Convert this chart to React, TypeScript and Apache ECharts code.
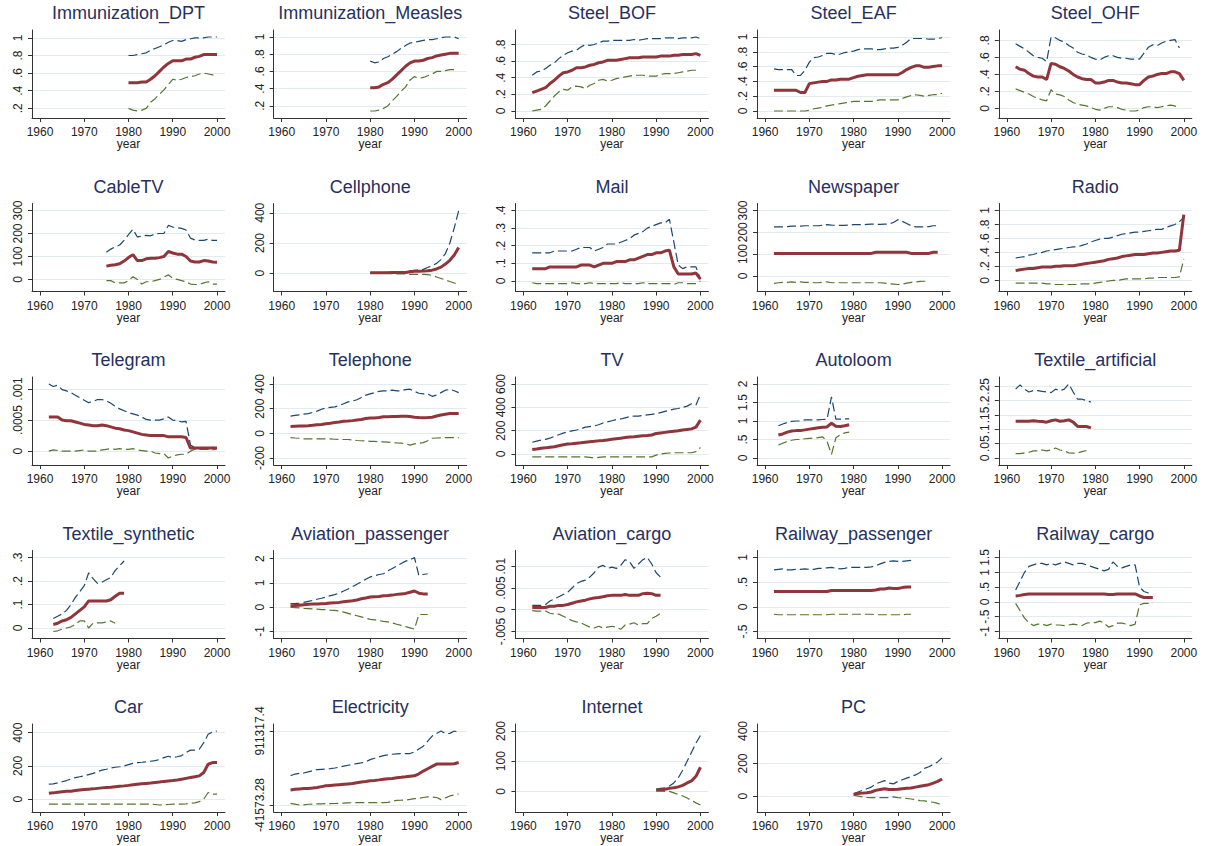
import React, { useEffect, useRef } from "react";
import * as echarts from "echarts";

// ---------- DATA ----------
const xTicks = [1960, 1970, 1980, 1990, 2000];

// 1 Immunization_DPT (1980-)
const dptStart = 1980;
const dptMean = [0.49, 0.49, 0.49, 0.5, 0.5, 0.53, 0.57, 0.62, 0.67, 0.71, 0.74, 0.74, 0.74, 0.76, 0.76, 0.78, 0.79, 0.81, 0.81, 0.81, 0.81];
const dptUpper = [0.8, 0.8, 0.81, 0.82, 0.83, 0.86, 0.88, 0.9, 0.92, 0.95, 0.97, 0.97, 0.96, 0.98, 0.99, 1.0, 1.0, 1.0, 1.01, 1.01, 1.01];
const dptLower = [0.2, 0.18, 0.17, 0.18, 0.2, 0.27, 0.31, 0.36, 0.41, 0.47, 0.53, 0.52, 0.53, 0.55, 0.56, 0.57, 0.59, 0.6, 0.59, 0.58, 0.58];
const dptTicks = [0.2, 0.4, 0.6, 0.8, 1];

// 2 Immunization_Measles (1980-)
const measStart = 1980;
const measMean = [0.41, 0.41, 0.42, 0.45, 0.47, 0.51, 0.56, 0.61, 0.66, 0.7, 0.72, 0.72, 0.73, 0.75, 0.76, 0.78, 0.79, 0.8, 0.81, 0.81, 0.81];
const measUpper = [0.72, 0.7, 0.71, 0.75, 0.77, 0.8, 0.83, 0.87, 0.9, 0.93, 0.94, 0.95, 0.96, 0.97, 0.97, 0.98, 0.99, 1.0, 1.0, 1.0, 0.98];
const measLower = [0.14, 0.14, 0.15, 0.17, 0.2, 0.26, 0.31, 0.37, 0.42, 0.5, 0.54, 0.52, 0.53, 0.55, 0.57, 0.6, 0.6, 0.61, 0.62, 0.62];
const measTicks = [0.2, 0.4, 0.6, 0.8, 1];

// 3 Steel_BOF (1962-)
const bofStart = 1962;
const bofMean = [
  0.22, 0.24, 0.26, 0.28, 0.33, 0.37, 0.42, 0.46, 0.47, 0.49,
  0.52, 0.52, 0.53, 0.55, 0.56, 0.58, 0.59, 0.61, 0.61, 0.61,
  0.62, 0.63, 0.64, 0.64, 0.64, 0.65, 0.65, 0.65, 0.65, 0.66,
  0.66, 0.66, 0.67, 0.67, 0.68, 0.68, 0.68, 0.69, 0.67];
const bofUpper = [
  0.43, 0.47, 0.48, 0.51, 0.55, 0.58, 0.63, 0.67, 0.7, 0.72,
  0.73, 0.77, 0.8, 0.79, 0.8, 0.82, 0.84, 0.84, 0.85, 0.85,
  0.85, 0.85, 0.85, 0.86, 0.85, 0.86, 0.87, 0.87, 0.87, 0.87,
  0.88, 0.88, 0.88, 0.87, 0.88, 0.88, 0.88, 0.89, 0.87];
const bofLower = [
  0, 0.01, 0.02, 0.06, 0.12, 0.18, 0.23, 0.26, 0.25, 0.29,
  0.3, 0.29, 0.27, 0.31, 0.33, 0.37, 0.38, 0.36, 0.37, 0.39,
  0.4, 0.41, 0.42, 0.43, 0.43, 0.43, 0.42, 0.42, 0.42, 0.44,
  0.45, 0.45, 0.45, 0.46, 0.47, 0.48, 0.49, 0.49];
const bofTicks = [0, 0.2, 0.4, 0.6, 0.8];

// 4 Steel_EAF (1962-)
const eafStart = 1962;
const eafMean = [
  0.28, 0.28, 0.28, 0.28, 0.28, 0.28, 0.25, 0.25, 0.37, 0.38,
  0.39, 0.4, 0.4, 0.42, 0.42, 0.43, 0.43, 0.43, 0.45, 0.47,
  0.48, 0.49, 0.49, 0.49, 0.49, 0.49, 0.49, 0.49, 0.49, 0.52,
  0.56, 0.59, 0.61, 0.61, 0.59, 0.59, 0.6, 0.61, 0.61];
const eafUpper = [
  0.57, 0.56, 0.56, 0.56, 0.56, 0.48, 0.48, 0.55, 0.66, 0.72,
  0.73, 0.75, 0.78, 0.78, 0.76, 0.77, 0.79, 0.8, 0.81, 0.83,
  0.84, 0.84, 0.84, 0.83, 0.83, 0.84, 0.85, 0.85, 0.86, 0.89,
  0.93, 0.98, 0.98, 0.98, 0.98, 0.97, 0.97, 0.98, 0.99];
const eafLower = [
  0, 0, 0, 0, 0, 0, 0, 0, 0.01, 0.03,
  0.04, 0.05, 0.07, 0.08, 0.09, 0.1, 0.11, 0.12, 0.13, 0.13,
  0.13, 0.13, 0.13, 0.14, 0.15, 0.15, 0.15, 0.15, 0.15, 0.17,
  0.19, 0.21, 0.22, 0.21, 0.2, 0.21, 0.22, 0.22, 0.24];
const eafTicks = [0, 0.2, 0.4, 0.6, 0.8, 1];

// 5 Steel_OHF (1962-)
const ohfStart = 1962;
const ohfMean = [
  0.49, 0.46, 0.45, 0.41, 0.38, 0.37, 0.37, 0.34, 0.53, 0.52,
  0.49, 0.47, 0.44, 0.4, 0.37, 0.35, 0.34, 0.34, 0.3, 0.3,
  0.31, 0.33, 0.33, 0.31, 0.3, 0.3, 0.29, 0.28, 0.28, 0.33,
  0.37, 0.38, 0.4, 0.41, 0.41, 0.43, 0.43, 0.41, 0.33];
const ohfUpper = [
  0.76, 0.73, 0.7, 0.66, 0.62, 0.6, 0.59, 0.55, 0.84, 0.83,
  0.8, 0.78, 0.74, 0.71, 0.66, 0.64, 0.63, 0.6, 0.58, 0.57,
  0.6, 0.62, 0.62, 0.6, 0.59, 0.59, 0.58, 0.58, 0.58, 0.65,
  0.72, 0.75, 0.74, 0.77, 0.79, 0.8, 0.81, 0.71];
const ohfLower = [
  0.23, 0.21, 0.19, 0.17, 0.14, 0.12, 0.1, 0.09, 0.22, 0.17,
  0.16, 0.14, 0.1, 0.07, 0.05, 0.04, 0.03, 0.01, -0.01, -0.02,
  0, 0.02, 0.02, 0.01, -0.01, -0.02, -0.03, -0.03, -0.02, 0.01,
  0.02, 0.02, 0.01, 0.02, 0.03, 0.04, 0.03, 0];
const ohfTicks = [0, 0.2, 0.4, 0.6, 0.8];

// 6 CableTV (1975-)
const cableStart = 1975;
const cableMean = [58, 62, 64, 68, 80, 95, 108, 82, 82, 90, 92, 92, 95, 100, 122, 115, 110, 110, 100, 80, 76, 76, 82, 80, 76, 75];
const cableUpper = [118, 132, 142, 150, 170, 195, 218, 185, 188, 192, 190, 198, 200, 200, 235, 228, 225, 222, 215, 180, 172, 170, 170, 175, 170, 170];
const cableLower = [-5, -5, -15, -15, -15, -5, 12, 0, -20, -10, -10, -5, 0, 10, 20, 5, 0, -5, -10, -20, -22, -22, -15, -10, -20, -20];
const cableTicks = [0, 100, 200, 300];

// 7 Cellphone (1980-)
const cellStart = 1980;
const cellMean = [2, 2, 3, 3, 3, 4, 4, 5, 5, 10, 12, 13, 14, 16, 20, 28, 40, 60, 85, 120, 170];
const cellUpper = [3, 3, 4, 4, 5, 6, 7, 8, 8, 15, 18, 20, 25, 38, 50, 65, 90, 130, 200, 300, 415];
const cellLower = [0, 0, 0, -1, -2, -3, -4, -5, -5, -8, -8, -8, -8, -10, -15, -25, -35, -45, -55, -65, -75];
const cellTicks = [0, 200, 400];

// 8 Mail (1962-)
const mailStart = 1962;
const mailMean = [
  0.07, 0.07, 0.07, 0.07, 0.08, 0.08, 0.08, 0.08, 0.08, 0.08,
  0.08, 0.09, 0.09, 0.09, 0.08, 0.09, 0.1, 0.1, 0.1, 0.11,
  0.11, 0.11, 0.12, 0.12, 0.13, 0.14, 0.15, 0.15, 0.16, 0.16,
  0.17, 0.175, 0.08, 0.04, 0.04, 0.04, 0.04, 0.045, 0.01];
const mailUpper = [
  0.16, 0.16, 0.16, 0.16, 0.16, 0.17, 0.17, 0.17, 0.17, 0.17,
  0.18, 0.19, 0.19, 0.19, 0.17, 0.18, 0.19, 0.21, 0.21, 0.21,
  0.22, 0.23, 0.24, 0.26, 0.27, 0.28, 0.3, 0.31, 0.32, 0.33,
  0.33, 0.35, 0.22, 0.09, 0.07, 0.08, 0.08, 0.08, 0.01];
const mailLower = [
  -0.01, -0.015, -0.015, -0.015, -0.015, -0.015, -0.015, -0.015, -0.015, -0.01,
  -0.015, -0.015, -0.015, -0.01, -0.015, -0.015, -0.015, -0.015, -0.015, -0.015,
  -0.01, -0.015, -0.015, -0.015, -0.015, -0.01, -0.015, -0.015, -0.015, -0.015,
  -0.015, -0.015, -0.02, -0.01, -0.01, -0.015, -0.015, -0.015, 0];
const mailTicks = [0, 0.1, 0.2, 0.3, 0.4];

// 9 Newspaper (1962-)
const newsStart = 1962;
const newsMean = [
  103, 103, 103, 103, 103, 103, 103, 103, 103, 103,
  103, 103, 103, 103, 103, 103, 103, 103, 103, 103,
  103, 103, 103, 108, 108, 108, 108, 108, 108, 108,
  108, 103, 103, 103, 103, 103, 108, 108];
const newsUpper = [
  225, 225, 225, 226, 228, 228, 228, 230, 230, 230,
  230, 232, 235, 233, 232, 232, 232, 233, 235, 235,
  235, 236, 237, 237, 236, 237, 238, 245, 258, 250,
  240, 230, 225, 225, 225, 226, 230, 230];
const newsLower = [
  -35, -32, -30, -30, -28, -30, -28, -30, -30, -32,
  -32, -30, -28, -32, -32, -32, -32, -32, -32, -32,
  -32, -32, -32, -32, -32, -34, -36, -38, -40, -38,
  -34, -30, -28, -26, -25, -25];
const newsTicks = [0, 100, 200, 300];

// 10 Radio (1962-)
const radioStart = 1962;
const radioMean = [
  0.14, 0.15, 0.16, 0.17, 0.17, 0.18, 0.19, 0.19, 0.19, 0.2,
  0.2, 0.21, 0.21, 0.21, 0.22, 0.23, 0.24, 0.25, 0.26, 0.27,
  0.28, 0.3, 0.31, 0.32, 0.34, 0.35, 0.36, 0.37, 0.37, 0.37,
  0.38, 0.39, 0.39, 0.4, 0.41, 0.42, 0.42, 0.43, 0.94];
const radioUpper = [
  0.32, 0.33, 0.34, 0.36, 0.37, 0.39, 0.4, 0.42, 0.43, 0.44,
  0.45, 0.46, 0.47, 0.48, 0.48, 0.5, 0.52, 0.55, 0.57, 0.59,
  0.6, 0.6, 0.62, 0.64, 0.66, 0.67, 0.68, 0.69, 0.69, 0.7,
  0.71, 0.72, 0.73, 0.73, 0.76, 0.78, 0.8, 0.84, 0.9];
const radioLower = [
  -0.04, -0.04, -0.04, -0.04, -0.04, -0.04, -0.04, -0.05, -0.05, -0.06,
  -0.06, -0.06, -0.06, -0.06, -0.06, -0.05, -0.05, -0.05, -0.04, -0.03,
  -0.02, -0.01, 0, 0, 0.01, 0.02, 0.02, 0.02, 0.02, 0.02,
  0.03, 0.03, 0.04, 0.04, 0.04, 0.04, 0.04, 0.05, 0.3];
const radioTicks = [0, 0.2, 0.4, 0.6, 0.8, 1];

// 11 Telegram (1962-)
const tgStart = 1962;
const tgMean = [
  0.00055, 0.00055, 0.00055, 0.0005, 0.00049, 0.00049, 0.00047, 0.00045, 0.00043, 0.00042,
  0.00041, 0.00041, 0.00042, 0.00041, 0.00039, 0.00037, 0.00036, 0.00034, 0.00033, 0.00031,
  0.00029, 0.00027, 0.00026, 0.00025, 0.00025, 0.00025, 0.00025, 0.00023, 0.00023, 0.00023,
  0.00023, 0.00022, 0.00005, 0.00005, 0.00005, 0.00005, 0.00005, 0.00005, 0.00005];
const tgUpper = [
  0.00108, 0.00104, 0.00106, 0.00099, 0.00097, 0.00094, 0.0009, 0.00086, 0.00082, 0.00078,
  0.0008, 0.00083, 0.00083, 0.00081, 0.00077, 0.00072, 0.00068, 0.00065, 0.00062, 0.0006,
  0.00058, 0.00055, 0.00051, 0.0005, 0.0005, 0.0005, 0.00052, 0.00055, 0.0005, 0.00049,
  0.00047, 0.00048, 0.0001, 0.00006, 0.00005, 0.00005, 0.00005, 0.00006, 0.00005];
const tgLower = [
  0, 0.00002, 0.00001, 0, 0, 0, 0, 0.00001, 0.00002, 0,
  0, 0, 0.00002, 0.00003, 0.00004, 0.00003, 0.00004, 0.00003, 0.00003, 0.00004,
  0.00002, 0.00001, 0, 0, -0.00003, -0.00004, -0.00004, -0.00011, -0.00008, -0.00006,
  -0.00005, -0.00005, 0, 0.00003, 0.00003, 0.00003, 0.00003, 0.00002, 0.00004];
const tgTicks = [0, 0.0005, 0.001];

// 12 Telephone (1962-)
const telStart = 1962;
const telMean = [
  55, 58, 60, 60, 62, 65, 70, 72, 78, 82,
  88, 92, 98, 100, 103, 108, 112, 120, 125, 125,
  128, 135, 135, 137, 137, 138, 138, 137, 130, 128,
  127, 128, 130, 140, 148, 155, 160, 160, 160];
const telUpper = [
  140, 145, 150, 155, 160, 170, 180, 195, 205, 210,
  215, 225, 240, 255, 262, 272, 290, 310, 320, 330,
  340, 345, 345, 350, 345, 345, 355, 358, 340, 325,
  320, 320, 300, 310, 330, 350, 355, 345, 330];
const telLower = [
  -35, -38, -40, -45, -45, -45, -45, -45, -45, -45,
  -48, -50, -50, -50, -55, -58, -60, -62, -65, -65,
  -68, -70, -72, -75, -78, -80, -85, -95, -85, -80,
  -75, -60, -40, -38, -36, -35, -35, -35, -35];
const telTicks = [-200, 0, 200, 400];

// 13 TV (1962-)
const tvStart = 1962;
const tvMean = [
  38, 42, 48, 52, 58, 62, 70, 78, 85, 88,
  92, 95, 100, 105, 108, 112, 115, 120, 125, 130,
  135, 140, 145, 148, 152, 155, 158, 162, 175, 180,
  185, 190, 195, 198, 205, 210, 215, 230, 290];
const tvUpper = [
  100, 110, 118, 125, 135, 150, 165, 178, 190, 198,
  205, 215, 230, 235, 240, 250, 265, 275, 285, 295,
  300, 310, 320, 325, 325, 330, 335, 340, 345, 355,
  365, 375, 385, 390, 400, 410, 430, 420, 510];
const tvLower = [
  -25, -25, -25, -25, -25, -25, -25, -25, -25, -25,
  -25, -25, -25, -30, -35, -30, -25, -25, -25, -25,
  -25, -25, -25, -25, -25, -25, -25, -25, -10, 0,
  5, 8, 10, 10, 10, 10, 10, 20, 55];
const tvTicks = [0, 200, 400, 600];

// 14 Autoloom (1963-)
const autoStart = 1963;
const autoMean = [0.62, 0.65, 0.7, 0.73, 0.74, 0.74, 0.76, 0.78, 0.8, 0.82, 0.83, 0.84, 0.94, 0.86, 0.85, 0.87, 0.9];
const autoUpper = [0.87, 0.92, 0.96, 0.99, 1.0, 1.0, 1.03, 1.03, 1.03, 1.03, 1.04, 1.05, 1.65, 1.05, 1.05, 1.06, 1.06];
const autoLower = [0.35, 0.4, 0.45, 0.48, 0.5, 0.5, 0.52, 0.53, 0.54, 0.55, 0.57, 0.45, 0.1, 0.55, 0.63, 0.68, 0.7];
const autoTicks = [0, 0.5, 1, 1.5, 2];

// 15 Textile_artificial (1962-)
const taStart = 1962;
const taMean = [0.128, 0.128, 0.128, 0.128, 0.13, 0.128, 0.127, 0.125, 0.13, 0.133, 0.128, 0.13, 0.133, 0.125, 0.11, 0.11, 0.11, 0.105];
const taUpper = [0.24, 0.255, 0.24, 0.23, 0.235, 0.235, 0.232, 0.23, 0.228, 0.24, 0.235, 0.24, 0.258, 0.23, 0.205, 0.205, 0.2, 0.195];
const taLower = [0.015, 0.015, 0.018, 0.02, 0.025, 0.025, 0.028, 0.025, 0.028, 0.035, 0.028, 0.025, 0.018, 0.017, 0.018, 0.022, 0.026];
const taTicks = [0, 0.05, 0.1, 0.15, 0.2, 0.25];

// 16 Textile_synthetic (1963-)
const tsStart = 1963;
const tsMean = [0.015, 0.02, 0.03, 0.035, 0.045, 0.06, 0.075, 0.09, 0.115, 0.115, 0.115, 0.115, 0.115, 0.12, 0.135, 0.148, 0.148];
const tsUpper = [0.04, 0.05, 0.06, 0.075, 0.1, 0.13, 0.155, 0.18, 0.235, 0.21, 0.19, 0.195, 0.205, 0.215, 0.245, 0.265, 0.285];
const tsLower = [-0.015, -0.012, -0.005, 0, 0.005, 0.015, 0.03, 0.03, 0, 0.02, 0.022, 0.022, 0.025, 0.03, 0.02];
const tsTicks = [0, 0.1, 0.2, 0.3];

// 17 Aviation_passenger (1962-)
const apStart = 1962;
const apMean = [
  0.05, 0.07, 0.08, 0.1, 0.12, 0.13, 0.13, 0.14, 0.15, 0.17,
  0.18, 0.2, 0.23, 0.25, 0.27, 0.3, 0.35, 0.38, 0.42, 0.43,
  0.44, 0.47, 0.48, 0.5, 0.53, 0.55, 0.57, 0.62, 0.67, 0.58,
  0.55, 0.55];
const apUpper = [
  0.15, 0.15, 0.17, 0.2, 0.24, 0.28, 0.33, 0.37, 0.42, 0.48,
  0.52, 0.58, 0.67, 0.75, 0.85, 0.95, 1.05, 1.15, 1.25, 1.3,
  1.35, 1.38, 1.5, 1.6, 1.7, 1.8, 1.9, 1.95, 2.05, 1.3,
  1.35, 1.38];
const apLower = [
  0, -0.02, -0.03, -0.05, -0.06, -0.07, -0.08, -0.1, -0.1, -0.12,
  -0.13, -0.15, -0.2, -0.25, -0.3, -0.35, -0.4, -0.45, -0.5, -0.52,
  -0.55, -0.58, -0.6, -0.65, -0.7, -0.75, -0.8, -0.85, -0.9, -0.3,
  -0.3, -0.3];
const apTicks = [-1, 0, 1, 2];

// 18 Aviation_cargo (1962-)
const acStart = 1962;
const acMean = [
  0.0005, 0.0005, 0.0005, 0.0005, 0.0008, 0.0008, 0.001, 0.001, 0.0012, 0.0015,
  0.0018, 0.002, 0.0022, 0.0025, 0.0027, 0.0028, 0.003, 0.0032, 0.0033, 0.0033,
  0.0033, 0.0035, 0.0033, 0.0033, 0.0033, 0.0037, 0.0038, 0.0037, 0.0033, 0.0033];
const acUpper = [
  0.001, 0.001, 0.001, 0.0012, 0.002, 0.0025, 0.003, 0.0035, 0.004, 0.005,
  0.006, 0.0065, 0.0068, 0.0075, 0.0085, 0.0098, 0.0102, 0.0095, 0.0098, 0.0095,
  0.0102, 0.0115, 0.011, 0.0095, 0.0105, 0.0115, 0.012, 0.0105, 0.0085, 0.0075];
const acLower = [
  -0.0002, -0.0003, -0.0003, -0.0003, -0.0008, -0.001, -0.001, -0.0015, -0.002, -0.0025,
  -0.0028, -0.003, -0.0035, -0.004, -0.0042, -0.0038, -0.0042, -0.004, -0.0038, -0.004,
  -0.0045, -0.0035, -0.0033, -0.003, -0.0035, -0.0032, -0.0032, -0.002, -0.0015, -0.0008];
const acTicks = [-0.005, 0, 0.005, 0.01];

// 19 Railway_passenger (1962-)
const rpStart = 1962;
const rpMean = [
  0.31, 0.31, 0.31, 0.31, 0.31, 0.31, 0.31, 0.31, 0.31, 0.31,
  0.31, 0.31, 0.31, 0.33, 0.33, 0.33, 0.33, 0.33, 0.33, 0.33,
  0.33, 0.33, 0.33, 0.34, 0.36, 0.36, 0.38, 0.37, 0.37, 0.39,
  0.4, 0.4];
const rpUpper = [
  0.75, 0.76, 0.77, 0.75, 0.75, 0.76, 0.76, 0.77, 0.76, 0.76,
  0.78, 0.78, 0.79, 0.8, 0.78, 0.77, 0.78, 0.8, 0.8, 0.8,
  0.8, 0.8, 0.81, 0.83, 0.87, 0.9, 0.92, 0.93, 0.92, 0.92,
  0.93, 0.94];
const rpLower = [
  -0.15, -0.16, -0.16, -0.16, -0.16, -0.16, -0.16, -0.16, -0.16, -0.16,
  -0.16, -0.16, -0.16, -0.15, -0.15, -0.15, -0.15, -0.15, -0.15, -0.15,
  -0.15, -0.15, -0.15, -0.16, -0.16, -0.16, -0.16, -0.16, -0.16, -0.16,
  -0.15, -0.15];
const rpTicks = [-0.5, 0, 0.5, 1];

// 20 Railway_cargo (1962-)
const rcStart = 1962;
const rcMean = [
  0.2, 0.22, 0.25, 0.27, 0.27, 0.27, 0.27, 0.27, 0.27, 0.27,
  0.27, 0.27, 0.27, 0.27, 0.27, 0.27, 0.27, 0.27, 0.27, 0.27,
  0.27, 0.25, 0.25, 0.27, 0.27, 0.27, 0.27, 0.27, 0.2, 0.15,
  0.15, 0.15];
const rcUpper = [
  0.4, 0.7, 1.0, 1.2, 1.25, 1.3, 1.3, 1.25, 1.3, 1.25,
  1.3, 1.35, 1.3, 1.25, 1.3, 1.3, 1.25, 1.2, 1.15, 1.1,
  1.05, 1.1, 1.35, 1.2, 1.15, 1.2, 1.25, 1.25, 0.5, 0.35,
  0.3, 0.3];
const rcLower = [
  -0.05, -0.3, -0.55, -0.7, -0.8, -0.75, -0.75, -0.8, -0.75, -0.78,
  -0.78, -0.8, -0.78, -0.75, -0.78, -0.8, -0.72, -0.7, -0.7, -0.65,
  -0.72, -0.85, -0.8, -0.72, -0.72, -0.75, -0.8, -0.75, -0.1, -0.05,
  -0.05, -0.05];
const rcTicks = [-1, -0.5, 0, 0.5, 1, 1.5];

// 21 Car (1962-)
const carStart = 1962;
const carMean = [
  35, 38, 42, 45, 48, 48, 52, 55, 58, 60,
  62, 65, 68, 70, 72, 75, 78, 80, 83, 87,
  90, 93, 95, 97, 100, 103, 107, 110, 112, 115,
  120, 125, 130, 135, 140, 160, 210, 220, 220];
const carUpper = [
  90, 92, 98, 105, 112, 122, 130, 135, 140, 148,
  155, 165, 175, 180, 188, 192, 195, 200, 208, 215,
  220, 222, 225, 228, 232, 238, 250, 258, 250, 255,
  262, 280, 295, 295, 300, 340, 390, 405, 410];
const carLower = [
  -30, -30, -30, -30, -30, -30, -30, -30, -30, -30,
  -30, -30, -30, -30, -30, -30, -30, -30, -30, -30,
  -30, -30, -30, -30, -32, -35, -33, -32, -30, -30,
  -30, -28, -25, -22, -15, 0, 40, 30, 30];
const carTicks = [0, 200, 400];

// 22 Electricity (1962-)
const elStart = 1962;
const elMean = [
  153000, 160000, 165000, 170000, 172000, 178000, 185000, 195000, 205000, 210000,
  215000, 220000, 225000, 230000, 235000, 245000, 255000, 262000, 270000, 275000,
  282000, 290000, 295000, 300000, 310000, 315000, 322000, 330000, 335000, 360000,
  395000, 425000, 455000, 485000, 487000, 487000, 487000, 490000, 505000];
const elUpper = [
  335000, 357000, 365000, 370000, 385000, 400000, 413000, 418000, 422000, 426000,
  435000, 445000, 458000, 470000, 482000, 492000, 500000, 515000, 543000, 560000,
  578000, 595000, 605000, 612000, 617000, 619000, 620000, 621000, 643000, 680000,
  716000, 780000, 846000, 880000, 911317.4, 877000, 881000, 911317.4, 890000];
const elLower = [
  -20000, -30000, -41573.28, -41000, -32000, -30000, -28000, -26000, -24000, -24000,
  -22000, -20000, -18000, -15000, -12000, -12000, -12000, -12000, -12000, -12000,
  -12000, -12000, -8000, 5000, 19000, 20000, 22000, 30000, 40000, 45000,
  55000, 62000, 62000, 55000, 28000, 50000, 75000, 88000, 100000];
const elTicks = [-41573.28, 911317.4];

// 23 Internet (1990-)
const inStart = 1990;
const inMean = [5, 5, 7, 10, 12, 15, 20, 28, 35, 50, 80];
const inUpper = [8, 10, 12, 18, 28, 45, 70, 100, 130, 160, 185];
const inLower = [2, 2, 0, 0, -5, -10, -15, -22, -30, -38, -45];
const inTicks = [0, 100, 200];

// 24 PC (1980-)
const pcStart = 1980;
const pcMean = [10, 15, 18, 20, 25, 35, 40, 45, 40, 40, 42, 45, 48, 50, 55, 60, 65, 70, 80, 90, 105];
const pcUpper = [15, 25, 35, 45, 55, 75, 85, 95, 80, 75, 90, 100, 110, 120, 130, 145, 170, 180, 195, 210, 235];
const pcLower = [5, 0, -5, -8, -10, -10, -10, -10, -10, -5, -10, -12, -15, -18, -22, -28, -30, -35, -38, -45, -55];
const pcTicks = [0, 200, 400];

const panels = [
  { title: "Immunization_DPT", start: dptStart, mean: dptMean, upper: dptUpper, lower: dptLower, ticks: dptTicks },
  { title: "Immunization_Measles", start: measStart, mean: measMean, upper: measUpper, lower: measLower, ticks: measTicks },
  { title: "Steel_BOF", start: bofStart, mean: bofMean, upper: bofUpper, lower: bofLower, ticks: bofTicks },
  { title: "Steel_EAF", start: eafStart, mean: eafMean, upper: eafUpper, lower: eafLower, ticks: eafTicks },
  { title: "Steel_OHF", start: ohfStart, mean: ohfMean, upper: ohfUpper, lower: ohfLower, ticks: ohfTicks },
  { title: "CableTV", start: cableStart, mean: cableMean, upper: cableUpper, lower: cableLower, ticks: cableTicks },
  { title: "Cellphone", start: cellStart, mean: cellMean, upper: cellUpper, lower: cellLower, ticks: cellTicks },
  { title: "Mail", start: mailStart, mean: mailMean, upper: mailUpper, lower: mailLower, ticks: mailTicks },
  { title: "Newspaper", start: newsStart, mean: newsMean, upper: newsUpper, lower: newsLower, ticks: newsTicks },
  { title: "Radio", start: radioStart, mean: radioMean, upper: radioUpper, lower: radioLower, ticks: radioTicks },
  { title: "Telegram", start: tgStart, mean: tgMean, upper: tgUpper, lower: tgLower, ticks: tgTicks },
  { title: "Telephone", start: telStart, mean: telMean, upper: telUpper, lower: telLower, ticks: telTicks },
  { title: "TV", start: tvStart, mean: tvMean, upper: tvUpper, lower: tvLower, ticks: tvTicks },
  { title: "Autoloom", start: autoStart, mean: autoMean, upper: autoUpper, lower: autoLower, ticks: autoTicks },
  { title: "Textile_artificial", start: taStart, mean: taMean, upper: taUpper, lower: taLower, ticks: taTicks },
  { title: "Textile_synthetic", start: tsStart, mean: tsMean, upper: tsUpper, lower: tsLower, ticks: tsTicks },
  { title: "Aviation_passenger", start: apStart, mean: apMean, upper: apUpper, lower: apLower, ticks: apTicks },
  { title: "Aviation_cargo", start: acStart, mean: acMean, upper: acUpper, lower: acLower, ticks: acTicks },
  { title: "Railway_passenger", start: rpStart, mean: rpMean, upper: rpUpper, lower: rpLower, ticks: rpTicks },
  { title: "Railway_cargo", start: rcStart, mean: rcMean, upper: rcUpper, lower: rcLower, ticks: rcTicks },
  { title: "Car", start: carStart, mean: carMean, upper: carUpper, lower: carLower, ticks: carTicks },
  { title: "Electricity", start: elStart, mean: elMean, upper: elUpper, lower: elLower, ticks: elTicks },
  { title: "Internet", start: inStart, mean: inMean, upper: inUpper, lower: inLower, ticks: inTicks },
  { title: "PC", start: pcStart, mean: pcMean, upper: pcUpper, lower: pcLower, ticks: pcTicks },
];

// ---------- STYLE ----------
const FONT = '"Liberation Sans", Arial, Helvetica, sans-serif';
const MEAN_COLOR = "#90353b";
const UPPER_COLOR = "#1a476f";
const LOWER_COLOR = "#55752f";
const TITLE_COLOR = "#26305e";
const TEXT_COLOR = "#222222";
const GRID_COLOR = "#e3ebef";

const stataFmt = (v: number) => String(v).replace(/^(-?)0\./, "$1.");

function buildOption() {
  const grid: any[] = [];
  const xAxis: any[] = [];
  const yAxis: any[] = [];
  const series: any[] = [];
  const title: any[] = [];
  const W = 193;
  const H = 88;
  const xPad = 8 / ((W - 16) / 40);

  panels.forEach((p, i) => {
    const col = i % 5;
    const row = Math.floor(i / 5);
    const left = 32 + 241.7 * col;
    const top = 30 + 173.5 * row;
    grid.push({ left, top, width: W, height: H, outerBoundsMode: "none", containLabel: false });
    title.push({
      text: p.title,
      left: left + W / 2,
      top: top - 26,
      textAlign: "center",
      padding: 0,
      textStyle: { fontSize: 18, fontWeight: "normal", color: TITLE_COLOR, fontFamily: FONT },
    });
    const all = [...p.mean, ...p.upper, ...p.lower, ...p.ticks];
    const lo = Math.min(...all);
    const hi = Math.max(...all);
    const pad = ((hi - lo) * 7) / (H - 14);
    const axisLine = { show: true, onZero: false, lineStyle: { color: "#333333", width: 1 } };
    xAxis.push({
      type: "value",
      gridIndex: i,
      min: 1960 - xPad,
      max: 2000 + xPad,
      name: "year",
      nameLocation: "middle",
      nameGap: 20,
      nameMoveOverlap: false,
      nameTextStyle: { fontSize: 12, lineHeight: 12, color: TEXT_COLOR, fontFamily: FONT },
      axisLine,
      axisTick: { show: true, length: 4, customValues: xTicks, lineStyle: { color: "#333333" } },
      axisLabel: {
        customValues: xTicks,
        margin: 8,
        fontSize: 12,
        lineHeight: 12,
        color: TEXT_COLOR,
        fontFamily: FONT,
        formatter: (v: number) => String(v),
      },
      splitLine: { show: false },
    });
    yAxis.push({
      type: "value",
      gridIndex: i,
      min: lo - pad,
      max: hi + pad,
      axisLine,
      axisTick: { show: true, length: 4, customValues: p.ticks, lineStyle: { color: "#333333" } },
      axisLabel: {
        customValues: p.ticks,
        rotate: 90,
        margin: 8,
        fontSize: 12,
        color: TEXT_COLOR,
        fontFamily: FONT,
        formatter: (v: number) => stataFmt(v),
      },
      splitLine: { show: true, lineStyle: { color: GRID_COLOR, width: 1 } },
    });
    const toPts = (arr: number[]) => arr.map((v, k) => [p.start + k, v]);
    const base = { type: "line", xAxisIndex: i, yAxisIndex: i, symbol: "none", showSymbol: false, silent: true };
    series.push({ ...base, name: p.title + " upper", data: toPts(p.upper), lineStyle: { color: UPPER_COLOR, width: 1.2, type: [9, 4] } });
    series.push({ ...base, name: p.title + " lower", data: toPts(p.lower), lineStyle: { color: LOWER_COLOR, width: 1.2, type: [9, 4] } });
    series.push({ ...base, name: p.title + " mean", data: toPts(p.mean), z: 3, lineStyle: { color: MEAN_COLOR, width: 3 } });
  });

  return {
    animation: false,
    backgroundColor: "#ffffff",
    textStyle: { fontFamily: FONT },
    title,
    grid,
    xAxis,
    yAxis,
    series,
  };
}

export default function App() {
  const ref = useRef<HTMLDivElement>(null);
  useEffect(() => {
    document.body.style.margin = "0";
    if (!ref.current) return;
    const chart = echarts.init(ref.current, undefined, { renderer: "svg" });
    chart.setOption(buildOption() as any);
    return () => chart.dispose();
  }, []);
  return <div ref={ref} style={{ width: 1208, height: 846 }} />;
}
